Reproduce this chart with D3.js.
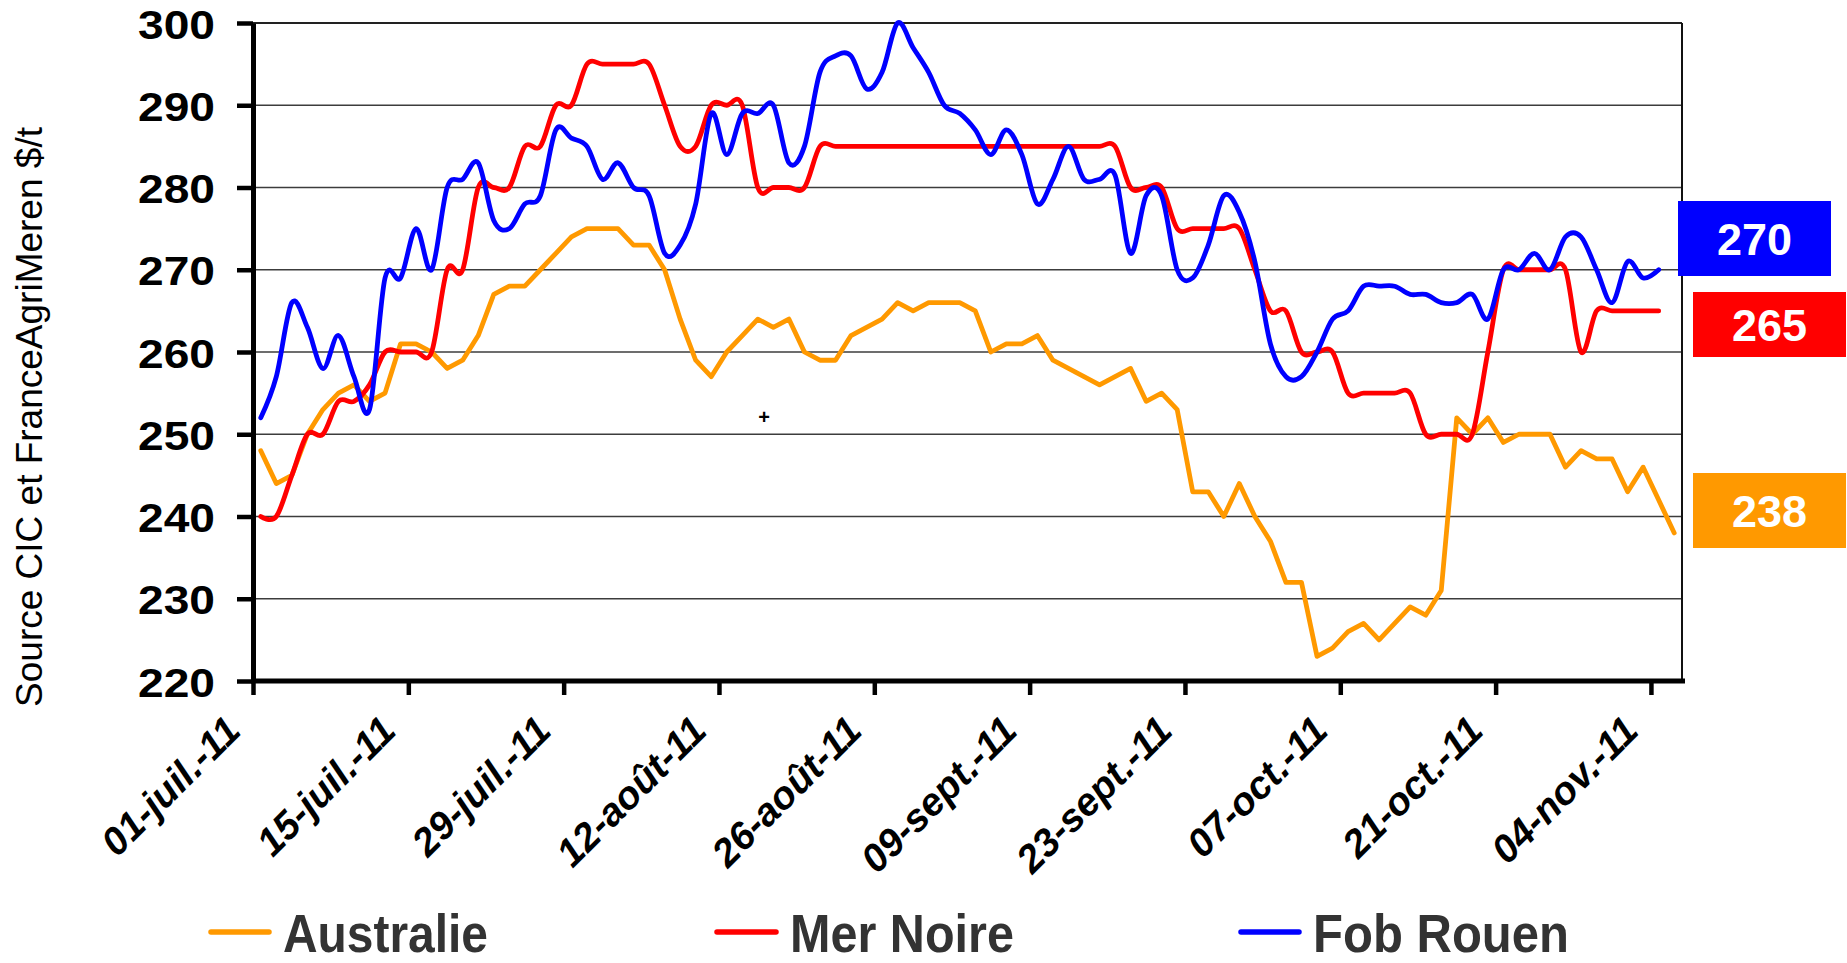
<!DOCTYPE html>
<html>
<head>
<meta charset="utf-8">
<script src="https://cdn.jsdelivr.net/npm/d3@7/dist/d3.min.js"></script>
<style>
  body { margin: 0; background: #fff; }
  svg { display: block; }
  text { font-family: "Liberation Sans", Arial, sans-serif; }
</style>
</head>
<body>
<svg id="chart" width="1847" height="963"></svg>
<script>
// one category per business day, from 01-juil.-11 to 07-nov.-11
const categoryCount = 92;
const tickLabels = ['01-juil.-11', '15-juil.-11', '29-juil.-11', '12-août-11', '26-août-11',
  '09-sept.-11', '23-sept.-11', '07-oct.-11', '21-oct.-11', '04-nov.-11'];
const tickEvery = 10;
const yTicks = [220, 230, 240, 250, 260, 270, 280, 290, 300];

const australie = [
  248, 244, 245, 250, 253, 255, 256, 254, 255, 261,
  261, 260, 258, 259, 262, 267, 268, 268, 270, 272,
  274, 275, 275, 275, 273, 273, 270, 264, 259, 257,
  260, 262, 264, 263, 264, 260, 259, 259, 262, 263,
  264, 266, 265, 266, 266, 266, 265, 260, 261, 261,
  262, 259, 258, 257, 256, 257, 258, 254, 255, 253,
  243, 243, 240, 244, 240, 237, 232, 232, 223, 224,
  226, 227, 225, 227, 229, 228, 231, 252, 250, 252,
  249, 250, 250, 250, 246, 248, 247, 247, 243, 246,
  242, 238];

const merNoire = [
  240, 240, 245, 250, 250, 254, 254, 256, 260, 260,
  260, 260, 270, 270, 280, 280, 280, 285, 285, 290,
  290, 295, 295, 295, 295, 295, 290, 285, 285, 290,
  290, 290, 280, 280, 280, 280, 285, 285, 285, 285,
  285, 285, 285, 285, 285, 285, 285, 285, 285, 285,
  285, 285, 285, 285, 285, 285, 280, 280, 280, 275,
  275, 275, 275, 275, 270, 265, 265, 260, 260, 260,
  255, 255, 255, 255, 255, 250, 250, 250, 250, 260,
  270, 270, 270, 270, 270, 260, 265, 265, 265, 265,
  265];

const fobRouen = [
  252, 257, 266, 263, 258, 262, 257, 253, 269, 269,
  275, 270, 280, 281, 283, 276, 275, 278, 279, 287,
  286, 285, 281, 283, 280, 279, 272, 273, 278, 289,
  284, 289, 289, 290, 283, 285, 294, 296, 296, 292,
  294, 300, 297, 294, 290, 289, 287, 284, 287, 284,
  278, 281, 285, 281, 281, 281.5, 272, 279, 279, 270,
  269, 273, 279, 277, 271, 261, 257, 257, 260, 264,
  265, 268, 268, 268, 267, 267, 266, 266, 267, 264,
  270, 270, 272, 270, 274, 274, 270, 266, 271, 269,
  270];

const series = [
  { name: 'Australie', values: australie, color: '#FF9900', curve: d3.curveLinear },
  { name: 'Mer Noire', values: merNoire, color: '#FF0000', curve: d3.curveCardinal.tension(0) },
  { name: 'Fob Rouen', values: fobRouen, color: '#0000FF', curve: d3.curveCardinal.tension(0) }
];

// layout
const plot = { left: 253, right: 1682, top: 23, bottom: 681 };
const legendLayout = [
  { x1: 211, x2: 269, tx: 283, tw: 205 },
  { x1: 717, x2: 776, tx: 790, tw: 224 },
  { x1: 1241, x2: 1299, tx: 1313, tw: 256 }
];
const boxLayout = [
  { x: 1693, y: 473, w: 153, h: 75 },
  { x: 1693, y: 292, w: 153, h: 65 },
  { x: 1678, y: 201, w: 153, h: 75 }
];

const svg = d3.select('#chart');

const x = d3.scaleLinear().domain([0, categoryCount]).range([plot.left, plot.right]);
const y = d3.scaleLinear().domain([220, 300]).range([plot.bottom, plot.top]);

// grid
svg.append('g').selectAll('line').data(yTicks.filter(function(d) { return d > 220; })).enter()
  .append('line')
  .attr('x1', plot.left).attr('x2', plot.right)
  .attr('y1', (d) => y(d)).attr('y2', (d) => y(d))
  .attr('stroke', (d) => d === 300 ? '#222' : '#3c3c3c')
  .attr('stroke-width', (d) => d === 300 ? 2 : 1.6);

svg.append('line')
  .attr('x1', plot.right).attr('x2', plot.right)
  .attr('y1', plot.top).attr('y2', plot.bottom)
  .attr('stroke', '#111').attr('stroke-width', 2);

// lines
const lineGroup = svg.append('g');
series.forEach(function(s) {
  const line = d3.line()
    .x(function(d, i) { return x(i + 0.5); })
    .y(function(d) { return y(d); })
    .curve(s.curve);
  lineGroup.append('path')
    .datum(s.values)
    .attr('d', line)
    .attr('fill', 'none')
    .attr('stroke', s.color)
    .attr('stroke-width', 4.8)
    .attr('stroke-linejoin', 'round')
    .attr('stroke-linecap', 'round');
});

// y axis
const yAxis = svg.append('g')
  .attr('transform', `translate(${plot.left},0)`)
  .call(d3.axisLeft(y).tickValues(yTicks).tickSize(16).tickSizeOuter(0).tickPadding(22).tickFormat(d3.format('d')));
yAxis.select('.domain').attr('stroke', '#000').attr('stroke-width', 5);
yAxis.selectAll('.tick line').attr('stroke', '#000').attr('stroke-width', 4.5);
yAxis.selectAll('.tick text')
  .attr('fill', '#000')
  .attr('font-size', 40)
  .attr('font-weight', 'bold')
  .attr('font-family', '"Liberation Sans", Arial, sans-serif')
  .attr('dy', '0.38em')
  .attr('textLength', 77)
  .attr('lengthAdjust', 'spacingAndGlyphs');

// x axis
const xAxis = svg.append('g')
  .attr('transform', `translate(0,${plot.bottom})`)
  .call(d3.axisBottom(x)
    .tickValues(tickLabels.map(function(l, i) { return i * tickEvery; }))
    .tickSize(14).tickSizeOuter(0)
    .tickFormat(function(d, i) { return tickLabels[i]; }));
xAxis.select('.domain').attr('stroke', '#000').attr('stroke-width', 5)
  .attr('d', `M${plot.left - 2},0H${plot.right + 3}`);
xAxis.selectAll('.tick line').attr('stroke', '#000').attr('stroke-width', 4.5);
xAxis.selectAll('.tick text')
  .attr('fill', '#000')
  .attr('font-size', 39)
  .attr('font-weight', 'bold')
  .attr('font-style', 'italic')
  .attr('font-family', '"Liberation Sans", Arial, sans-serif')
  .attr('text-anchor', 'end')
  .attr('y', 0).attr('dy', 0)
  .attr('transform', 'translate(-11,52) rotate(-45)');

// y title
svg.append('text')
  .attr('transform', 'translate(42,417) rotate(-90)')
  .attr('text-anchor', 'middle')
  .attr('font-size', 37)
  .attr('fill', '#000')
  .text('Source CIC et FranceAgriMeren $/t');

// legend
const legend = svg.append('g');
series.forEach(function(s, i) {
  const l = legendLayout[i];
  legend.append('line')
    .attr('x1', l.x1).attr('x2', l.x2).attr('y1', 932).attr('y2', 932)
    .attr('stroke', s.color).attr('stroke-width', 5.5).attr('stroke-linecap', 'round');
  legend.append('text')
    .attr('x', l.tx).attr('y', 952)
    .attr('font-size', 53).attr('font-weight', 'bold').attr('fill', '#333')
    .attr('textLength', l.tw).attr('lengthAdjust', 'spacingAndGlyphs')
    .text(s.name);
});

// last-value boxes
const boxes = svg.append('g');
series.forEach(function(s, i) {
  const b = boxLayout[i];
  const last = s.values[s.values.length - 1];
  boxes.append('rect')
    .attr('x', b.x).attr('y', b.y).attr('width', b.w).attr('height', b.h)
    .attr('fill', s.color);
  boxes.append('text')
    .attr('x', b.x + b.w / 2).attr('y', b.y + b.h / 2)
    .attr('dy', '0.36em')
    .attr('text-anchor', 'middle')
    .attr('font-size', 45).attr('font-weight', 'bold').attr('fill', '#fff')
    .text(last);
});

// stray marks of the original picture
svg.append('text')
  .attr('x', 764).attr('y', 424)
  .attr('text-anchor', 'middle')
  .attr('font-size', 20).attr('font-weight', 'bold')
  .text('+');
svg.append('text')
  .attr('x', 1688).attr('y', 986)
  .attr('font-size', 32).attr('fill', '#333')
  .text('Source CIC');
</script>
</body>
</html>
